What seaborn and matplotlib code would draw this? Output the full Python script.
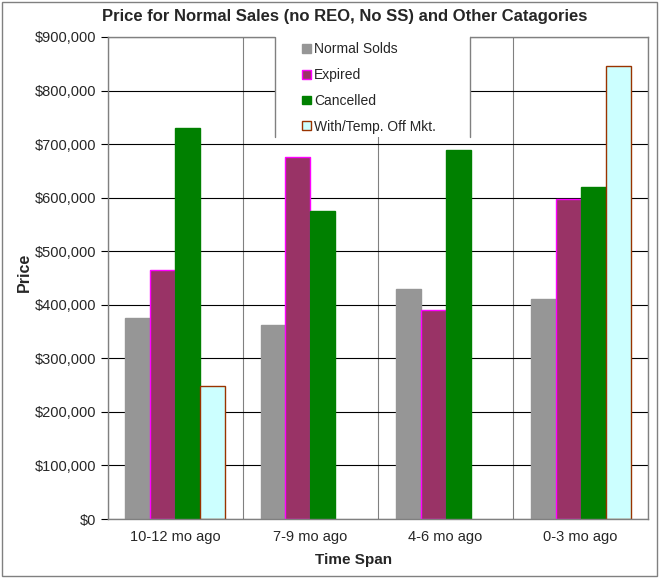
import matplotlib
matplotlib.use('Agg')
import matplotlib.pyplot as plt
from matplotlib.ticker import FuncFormatter
import numpy as np
import pandas as pd
import seaborn as sns

# values
time_spans = ['10-12 mo ago', '7-9 mo ago', '4-6 mo ago', '0-3 mo ago']
series = ['Normal Solds', 'Expired', 'Cancelled', 'With/Temp. Off Mkt.']
normal_solds = [375000, 362000, 430000, 410000]
expired = [465000, 676000, 390000, 598000]
cancelled = [731000, 575000, 689000, 620000]
with_temp_off = [248000, np.nan, np.nan, 845000]

face_colors = ['#969696', '#993366', '#008000', '#CCFFFF']
edge_colors = ['#969696', '#FF00FF', '#008000', '#993300']

rows = []
for name, vals in zip(series, [normal_solds, expired, cancelled, with_temp_off]):
    for span, v in zip(time_spans, vals):
        rows.append({'Time Span': span, 'Series': name, 'Price': v})
df = pd.DataFrame(rows)

sns.set_style('white')
plt.rcParams['font.family'] = ['Liberation Sans', 'DejaVu Sans']

fig = plt.figure(figsize=(6.62, 5.78), dpi=100)
ax = fig.add_axes([0.163, 0.102, 0.816, 0.834])

sns.barplot(data=df, x='Time Span', y='Price', hue='Series', order=time_spans,
            hue_order=series, palette=face_colors, width=0.74, errorbar=None,
            saturation=1, ax=ax, legend=False)

for cont, ec in zip(ax.containers, edge_colors):
    for bar in cont:
        bar.set_edgecolor(ec)
        bar.set_linewidth(1.0)

ax.set_ylim(0, 900000)
ax.set_xlim(-0.5, 3.5)
ax.set_yticks(np.arange(0, 900001, 100000))
ax.yaxis.set_major_formatter(FuncFormatter(lambda v, p: '${:,.0f}'.format(v)))

# horizontal black gridlines, gray separators between categories
ax.yaxis.grid(True, color='black', linewidth=0.8)
ax.set_xticks([-0.5, 0.5, 1.5, 2.5, 3.5], minor=True)
ax.xaxis.grid(True, which='minor', color='#808080', linewidth=0.8)
ax.set_axisbelow(True)
ax.tick_params(axis='x', which='major', length=0, labelsize=10.5, pad=8)
ax.tick_params(axis='x', which='minor', length=5, color='#808080', direction='out')
ax.tick_params(axis='y', length=5, color='black', direction='out', labelsize=10.5, left=True)

for s in ax.spines.values():
    s.set_color('#808080')
    s.set_linewidth(1.0)

ax.set_xlabel('')
ax.set_ylabel('')
fig.text(24 / 662, 1 - 272 / 578, 'Price', ha='center', va='center', rotation=90,
         fontsize=11.5, fontweight='bold')
fig.text(354 / 662, 1 - 560 / 578, 'Time Span', ha='center', va='center',
         fontsize=11, fontweight='bold')
fig.text(345 / 662, 1 - 17 / 578,
         'Price for Normal Sales (no REO, No SS) and Other Catagories',
         ha='center', va='center', fontsize=12, fontweight='bold')

# white legend area covering the top of the plot
box = plt.Rectangle((0.309, 0.793), 0.361, 0.21, transform=ax.transAxes,
                    facecolor='white', edgecolor='none', zorder=3, clip_on=False)
ax.add_patch(box)
for bx in [0.309, 0.670]:
    ax.plot([bx, bx], [0.793, 1.0], transform=ax.transAxes, color='#808080',
            linewidth=1.0, zorder=3.5, clip_on=False)

handles = [cont.patches[0] for cont in ax.containers]
leg = ax.legend(handles, series, loc='upper left', bbox_to_anchor=(0.36, 0.989),
                frameon=False, fontsize=10, handlelength=0.6, handleheight=0.6,
                handletextpad=0.25, labelspacing=0.85, borderaxespad=0, borderpad=0)
leg.set_zorder(5)

# outer chart border
fig.patches.append(plt.Rectangle((0.003, 0.003), 0.99, 0.993, transform=fig.transFigure,
                                 fill=False, edgecolor='#808080', linewidth=1.0))

fig.savefig('out.png', dpi=100)
